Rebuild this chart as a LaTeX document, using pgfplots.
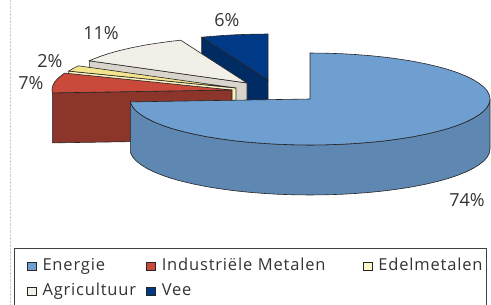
\documentclass[border=0pt]{standalone}
\usepackage{pgfplots}
\pgfplotsset{compat=1.18}
\usepackage{fontspec}
\setmainfont{Open Sans}
\newfontfamily\legfont[LetterSpace=5]{Open Sans}
\definecolor{enTop}{HTML}{6F9FD0}
\definecolor{enSide}{HTML}{5E87B2}
\definecolor{inTop}{HTML}{C94A3B}
\definecolor{inSide}{HTML}{8B352B}
\definecolor{edTop}{HTML}{F3E48E}
\definecolor{edSide}{HTML}{FBF2C0}
\definecolor{agTop}{HTML}{F2EFE8}
\definecolor{agSide}{HTML}{D9D5CD}
\definecolor{veTop}{HTML}{003A87}
\definecolor{veSide}{HTML}{002B63}
\definecolor{edLeg}{HTML}{FFF8C8}
\definecolor{txt}{HTML}{333333}
\begin{document}
\begin{tikzpicture}
\begin{axis}[at={(0,0)}, anchor=south west, scale only axis,
  width=491pt, height=305pt, xmin=0, xmax=491, ymin=0, ymax=305,
  y dir=reverse, hide axis, clip=false,
  legend columns=3,
  legend cell align=left,
  legend image code/.code={\draw[#1,draw=black!85,line width=0.6pt] (0pt,-4pt) rectangle (9pt,4pt);},
  legend style={at={(axis cs:27,258)}, anchor=north west, draw=none, fill=none, inner sep=0pt,
     font=\legfont\fontsize{16.5}{19}\selectfont\color{txt}, row sep=9pt,
     nodes={inner sep=0pt, text height=12pt, text depth=4pt},
     /tikz/column 1/.append style={column sep=5.7pt},
     /tikz/column 2/.append style={nodes={text width=103pt, align=left}},
     /tikz/column 3/.append style={column sep=6.7pt},
     /tikz/column 4/.append style={nodes={text width=201pt, align=left}},
     /tikz/column 5/.append style={column sep=6pt}},
  every axis plot/.append style={draw=black!85, line width=0.6pt, forget plot},
]
% Vee (6%)
\addplot[fill=veSide] coordinates {(268,80) (201.7,37.2) (201.7,87.2) (268,130)} -- cycle;
\addplot[fill=veTop] coordinates {(268,80) (268,34) (252.3,34.2) (236.7,34.7) (221.4,35.6) (206.4,36.8) (201.7,37.2)} -- cycle;
% Agricultuur (11%)
\addplot[fill=agSide] coordinates {(247,83) (89.3,60.8) (89.3,110.8) (247,133)} -- cycle;
\addplot[fill=agTop] coordinates {(247,83) (180.7,40.2) (170.9,41.3) (157,43.2) (143.8,45.3) (131.3,47.8) (119.7,50.5) (109.1,53.4) (99.6,56.6) (91.1,60) (89.3,60.8)} -- cycle;
% Edelmetalen (2%)
\addplot[fill=edSide] coordinates {(236,88) (68.6,71.1) (68.6,121.1) (236,138)} -- cycle;
\addplot[fill=edTop] coordinates {(236,88) (78.3,65.8) (72.9,68.6) (68.6,71.1)} -- cycle;
% Industriele Metalen (7%)
\addplot[fill=inSide] coordinates {(232,90) (52.4,92.9) (52.4,142.9) (232,140)} -- cycle;
\addplot[fill=inTop] coordinates {(232,90) (64.6,73.1) (62.9,74.3) (58.1,78.1) (54.7,82) (52.7,86) (52,90) (52.4,92.9)} -- cycle;
% Energie (74%) side
\addplot[fill=enSide] coordinates {(130.4,101.9) (130.7,103) (132.7,107) (136.1,110.9) (140.9,114.7) (146.9,118.4) (154.1,122) (162.6,125.4) (172.1,128.6) (182.7,131.5) (194.3,134.2) (206.8,136.7) (220,138.8) (233.9,140.7) (248.4,142.2) (263.4,143.4) (278.7,144.3) (294.3,144.8) (310,145) (325.7,144.8) (341.3,144.3) (356.6,143.4) (371.6,142.2) (386.1,140.7) (400,138.8) (413.2,136.7) (425.7,134.2) (437.3,131.5) (447.9,128.6) (457.4,125.4) (465.9,122) (473.1,118.4) (479.1,114.7) (483.9,110.9) (487.3,107) (489.3,103) (490,99)
 (490,149) (489.3,153) (487.3,157) (483.9,160.9) (479.1,164.7) (473.1,168.4) (465.9,172) (457.4,175.4) (447.9,178.6) (437.3,181.5) (425.7,184.2) (413.2,186.7) (400,188.8) (386.1,190.7) (371.6,192.2) (356.6,193.4) (341.3,194.3) (325.7,194.8) (310,195) (294.3,194.8) (278.7,194.3) (263.4,193.4) (248.4,192.2) (233.9,190.7) (220,188.8) (206.8,186.7) (194.3,184.2) (182.7,181.5) (172.1,178.6) (162.6,175.4) (154.1,172) (146.9,168.4) (140.9,164.7) (136.1,160.9) (132.7,157) (130.7,153) (130.4,151.9)} -- cycle;
% Energie top
\addplot[fill=enTop] coordinates {(310,99) (310,53) (325.7,53.2) (341.3,53.7) (356.6,54.6) (371.6,55.8) (386.1,57.3) (400,59.2) (413.2,61.3) (425.7,63.8) (437.3,66.5) (447.9,69.4) (457.4,72.6) (465.9,76) (473.1,79.6) (479.1,83.3) (483.9,87.1) (487.3,91) (489.3,95) (490,99)
 (489.3,103) (487.3,107) (483.9,110.9) (479.1,114.7) (473.1,118.4) (465.9,122) (457.4,125.4) (447.9,128.6) (437.3,131.5) (425.7,134.2) (413.2,136.7) (400,138.8) (386.1,140.7) (371.6,142.2) (356.6,143.4) (341.3,144.3) (325.7,144.8) (310,145) (294.3,144.8) (278.7,144.3) (263.4,143.4) (248.4,142.2) (233.9,140.7) (220,138.8) (206.8,136.7) (194.3,134.2) (182.7,131.5) (172.1,128.6) (162.6,125.4) (154.1,122) (146.9,118.4) (140.9,114.7) (136.1,110.9) (132.7,107) (130.7,103) (130.4,101.9)} -- cycle;
% labels
\node[txt, font=\fontsize{18}{20}\selectfont] at (axis cs:467,200) {74\%};
\node[txt, font=\fontsize{18}{20}\selectfont] at (axis cs:227,20) {6\%};
\node[txt, font=\fontsize{18}{20}\selectfont] at (axis cs:101,33) {11\%};
\node[txt, font=\fontsize{18}{20}\selectfont] at (axis cs:50,61) {2\%};
\node[txt, font=\fontsize{18}{20}\selectfont] at (axis cs:31,83) {7\%};
% frame and guide
\draw[gray!40, densely dotted] (axis cs:10,0) -- (axis cs:10,305);
\draw[black!75, line width=0.8pt] (axis cs:14,248) rectangle (axis cs:486,330);
% legend
\addlegendimage{fill=enTop}\addlegendentry{Energie}
\addlegendimage{fill=inTop}\addlegendentry{Industriële Metalen}
\addlegendimage{fill=edLeg}\addlegendentry{Edelmetalen}
\addlegendimage{fill=agTop}\addlegendentry{Agricultuur}
\addlegendimage{fill=veTop}\addlegendentry{Vee}
\end{axis}
\pgfresetboundingbox
\path[use as bounding box] (0,0) rectangle (491pt,305pt);
\end{tikzpicture}
\end{document}
